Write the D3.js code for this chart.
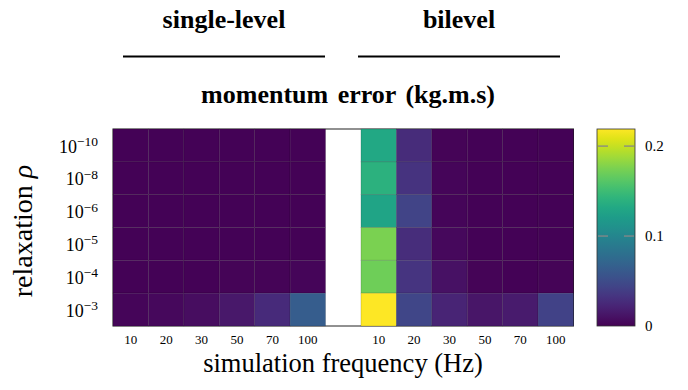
<!DOCTYPE html>
<html>
<head>
<meta charset="utf-8">
<script src="https://cdn.jsdelivr.net/npm/d3@7"></script>
<style>
  body { margin: 0; background: #fff; }
</style>
</head>
<body>
<div id="chart"></div>
<script>
// frequencies (Hz) on the x axis, relaxation exponents on the y axis (top to bottom)
const frequencies = ['10', '20', '30', '50', '70', '100'];
const relaxations = ['-10', '-8', '-6', '-5', '-4', '-3'];

// momentum error, rows follow relaxations, columns follow frequencies
const singleLevel = [
  [0.001, 0.001, 0.001, 0.001, 0.001, 0.001],
  [0.001, 0.001, 0.001, 0.001, 0.001, 0.001],
  [0.001, 0.001, 0.001, 0.001, 0.001, 0.001],
  [0.001, 0.001, 0.001, 0.001, 0.001, 0.001],
  [0.001, 0.001, 0.001, 0.002, 0.002, 0.003],
  [0.003, 0.005, 0.007, 0.014, 0.026, 0.064]
];
const bilevel = [
  [0.131, 0.027, 0.002, 0.001, 0.001, 0.001],
  [0.140, 0.032, 0.003, 0.001, 0.001, 0.001],
  [0.128, 0.044, 0.003, 0.001, 0.001, 0.001],
  [0.175, 0.028, 0.005, 0.001, 0.001, 0.001],
  [0.171, 0.033, 0.010, 0.002, 0.001, 0.002],
  [0.219, 0.046, 0.022, 0.012, 0.016, 0.043]
];
const colorTicks = [0, 0.1, 0.2];
const colorMax = 0.219;

const width = 688;
const height = 390;
const plot = { left: 113, right: 573.5, top: 129, bottom: 326 };
const bar = { left: 597, right: 635 };
const serif = '"Liberation Serif", "Times New Roman", Tinos, serif';

const svg = d3.select('#chart').append('svg')
  .attr('width', width)
  .attr('height', height);

// column keys: single-level, an empty column, then bilevel
const columns = frequencies.map(f => 's' + f)
  .concat(['gap'])
  .concat(frequencies.map(f => 'b' + f));

const x = d3.scaleBand().domain(columns).range([plot.left, plot.right]);
const y = d3.scaleBand().domain(relaxations).range([plot.top, plot.bottom]);
const color = d3.scaleSequential(d3.interpolateViridis).domain([0, colorMax]);

const cells = [];
relaxations.forEach((r, i) => {
  frequencies.forEach((f, j) => {
    cells.push({ col: 's' + f, row: r, value: singleLevel[i][j] });
    cells.push({ col: 'b' + f, row: r, value: bilevel[i][j] });
  });
});

// axis frame (only visible across the empty column)
svg.append('rect')
  .attr('x', plot.left)
  .attr('y', plot.top)
  .attr('width', plot.right - plot.left)
  .attr('height', plot.bottom - plot.top)
  .attr('fill', 'none')
  .attr('stroke', '#222')
  .attr('stroke-width', 1);

svg.append('g')
  .selectAll('rect')
  .data(cells)
  .enter()
  .append('rect')
  .attr('x', d => x(d.col))
  .attr('y', d => y(d.row))
  .attr('width', x.bandwidth())
  .attr('height', y.bandwidth())
  .attr('fill', d => color(d.value))
  .attr('stroke', 'rgba(0,0,0,0.18)')
  .attr('stroke-width', 0.8);

// x axis
const xAxis = d3.axisBottom(x)
  .tickSize(0)
  .tickPadding(9)
  .tickFormat(d => d === 'gap' ? '' : d.slice(1));
const gx = svg.append('g')
  .attr('transform', 'translate(0,' + plot.bottom + ')')
  .call(xAxis);
gx.select('.domain').remove();
gx.selectAll('text')
  .attr('font-family', serif)
  .attr('font-size', 13)
  .attr('fill', '#000');

// y axis with 10^n labels
const yAxis = d3.axisLeft(y).tickSize(0).tickPadding(15).tickFormat('');
const gy = svg.append('g')
  .attr('transform', 'translate(' + plot.left + ',0)')
  .call(yAxis);
gy.select('.domain').remove();
gy.selectAll('.tick text').each(function (d) {
  const t = d3.select(this)
    .attr('fill', '#000')
    .attr('font-family', serif)
    .attr('font-size', 18)
    .attr('dy', '0.4em');
  t.append('tspan').text('10');
  t.append('tspan')
    .attr('dy', '-0.5em')
    .attr('font-size', 13.5)
    .text(d.replace('-', '\u2212'));
});

// axis titles
svg.append('text')
  .attr('transform', 'translate(32,231) rotate(-90)')
  .attr('text-anchor', 'middle')
  .attr('font-family', serif)
  .attr('font-size', 28)
  .html('relaxation <tspan font-style="italic">\u03C1</tspan>');

svg.append('text')
  .attr('x', 343)
  .attr('y', 372)
  .attr('text-anchor', 'middle')
  .attr('font-family', serif)
  .attr('font-size', 26.5)
  .text('simulation frequency (Hz)');

// group headers
function boldText (sel) {
  return sel
    .attr('text-anchor', 'middle')
    .attr('font-family', serif)
    .attr('font-size', 26)
    .attr('font-weight', 'bold')
    .attr('fill', '#000');
}

const groups = [
  { label: 'single-level', x1: 123, x2: 325 },
  { label: 'bilevel', x1: 358, x2: 560 }
];
groups.forEach(g => {
  boldText(svg.append('text'))
    .attr('x', (g.x1 + g.x2) / 2)
    .attr('y', 28)
    .text(g.label);
  svg.append('line')
    .attr('x1', g.x1)
    .attr('x2', g.x2)
    .attr('y1', 56.5)
    .attr('y2', 56.5)
    .attr('stroke', '#000')
    .attr('stroke-width', 2.2);
});

boldText(svg.append('text'))
  .attr('x', 348)
  .attr('y', 103)
  .attr('word-spacing', '3px')
  .text('momentum error (kg.m.s)');

// colorbar
const cScale = d3.scaleLinear().domain([0, colorMax]).range([plot.bottom, plot.top]);
const grad = svg.append('defs').append('linearGradient')
  .attr('id', 'viridis')
  .attr('x1', 0).attr('y1', 1).attr('x2', 0).attr('y2', 0);
d3.range(0, 1.0001, 0.05).forEach(t => {
  grad.append('stop')
    .attr('offset', t)
    .attr('stop-color', d3.interpolateViridis(t));
});
svg.append('rect')
  .attr('x', bar.left)
  .attr('y', plot.top)
  .attr('width', bar.right - bar.left)
  .attr('height', plot.bottom - plot.top)
  .attr('fill', 'url(#viridis)')
  .attr('stroke', '#333')
  .attr('stroke-width', 0.8);

const cb = svg.append('g');
cb.selectAll('line.l')
  .data(colorTicks.filter(v => v > 0))
  .enter()
  .append('line')
  .attr('x1', bar.left + 1).attr('x2', bar.left + 11)
  .attr('y1', d => cScale(d)).attr('y2', d => cScale(d))
  .attr('stroke', '#888').attr('stroke-width', 1.3);
cb.selectAll('line.r')
  .data(colorTicks.filter(v => v > 0))
  .enter()
  .append('line')
  .attr('x1', bar.right - 11).attr('x2', bar.right - 1)
  .attr('y1', d => cScale(d)).attr('y2', d => cScale(d))
  .attr('stroke', '#888').attr('stroke-width', 1.3);
cb.selectAll('text')
  .data(colorTicks)
  .enter()
  .append('text')
  .attr('x', bar.right + 10)
  .attr('y', d => cScale(d))
  .attr('dy', '0.35em')
  .attr('font-family', serif)
  .attr('font-size', 15)
  .text(d => d === 0 ? '0' : d.toFixed(1));
</script>
</body>
</html>
